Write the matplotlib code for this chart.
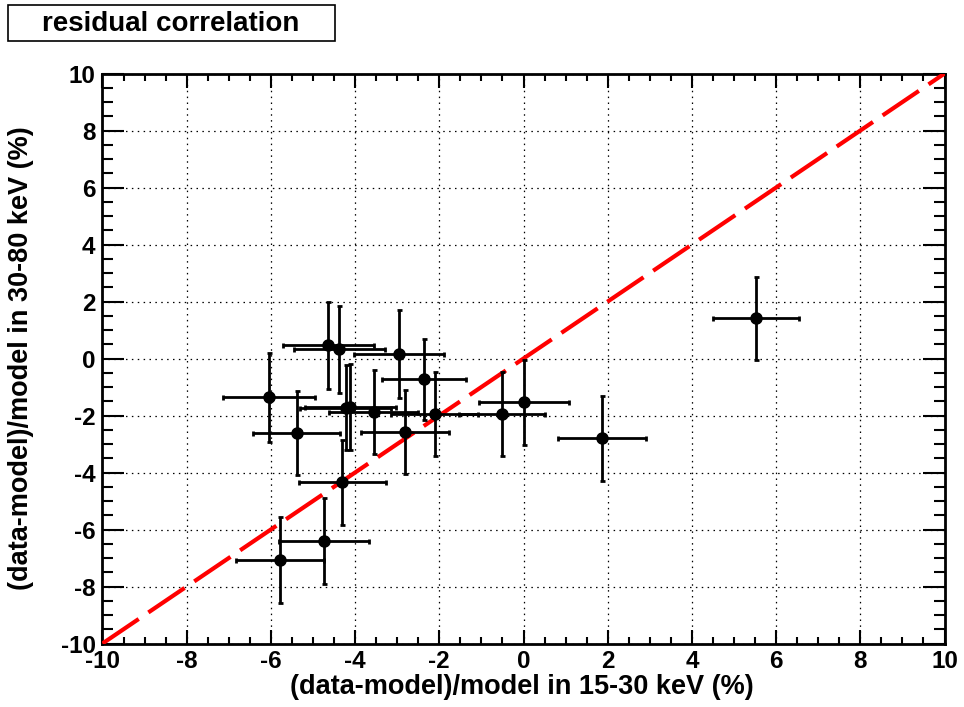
"""
Residual correlation: 15-30 keV vs 30-80 keV residuals
"""

import matplotlib
matplotlib.use("Agg")
import matplotlib.pyplot as plt
from matplotlib.ticker import MultipleLocator

plt.rcParams['font.family'] = ['Liberation Sans', 'DejaVu Sans']
plt.rcParams['font.weight'] = 'bold'
plt.rcParams['axes.unicode_minus'] = False

# data (percent)
x_res = [-6.05, -5.39, -5.79, -4.74, -4.64, -4.38, -4.30, -4.22, -4.12,
         -3.56, -2.95, -2.82, -2.37, -2.11, -0.51, 0.01, 1.87, 5.52]
y_res = [-1.36, -2.62, -7.07, -6.40, 0.47, 0.32, -4.35, -1.72, -1.70,
         -1.87, 0.15, -2.57, -0.73, -1.95, -1.95, -1.54, -2.80, 1.41]
x_err = [1.09, 1.04, 1.05, 1.07, 1.08, 1.08, 1.03, 1.08, 1.08,
         1.05, 1.07, 1.04, 1.00, 1.04, 1.02, 1.06, 1.04, 1.02]
y_err = [1.56, 1.48, 1.52, 1.52, 1.53, 1.54, 1.48, 1.50, 1.50,
         1.48, 1.54, 1.48, 1.42, 1.47, 1.47, 1.49, 1.50, 1.46]

diag = [-10, 10]
title = "residual correlation"
xlabel = "(data-model)/model in 15-30 keV (%)"
ylabel = "(data-model)/model in 30-80 keV (%)"

FS_TICK = 17.5
FS_LABEL = 19.5

fig = plt.figure(figsize=(9.64, 7.07), dpi=100)
ax = fig.add_axes([0.1063, 0.0898, 0.8735, 0.8062])

ax.set_xlim(-10, 10)
ax.set_ylim(-10, 10)

# grid at major ticks
ax.grid(True, which='major', color='black', linestyle=(0, (1.2, 3.5)), linewidth=0.9)
ax.set_axisbelow(True)

# y = x line
ax.plot(diag, diag, color='#ff0000', linewidth=3, dashes=(10.5, 2.8), zorder=3)

ax.errorbar(x_res, y_res, xerr=x_err, yerr=y_err, fmt='o', color='black',
            markersize=8, elinewidth=2, capsize=1.8, capthick=2, zorder=4)

# ticks on all sides, ROOT style
ax.xaxis.set_major_locator(MultipleLocator(2))
ax.xaxis.set_minor_locator(MultipleLocator(0.5))
ax.yaxis.set_major_locator(MultipleLocator(2))
ax.yaxis.set_minor_locator(MultipleLocator(0.5))
ax.tick_params(axis='x', which='major', direction='in', length=10, width=1.5,
               top=True, labelsize=FS_TICK, pad=5)
ax.tick_params(axis='x', which='minor', direction='in', length=5, width=1.5, top=True)
ax.tick_params(axis='y', which='major', direction='in', length=16, width=1.5,
               right=True, labelsize=FS_TICK, pad=5)
ax.tick_params(axis='y', which='minor', direction='in', length=8, width=1.5, right=True)
for lab in ax.get_xticklabels() + ax.get_yticklabels():
    lab.set_fontweight('bold')

for sp in ax.spines.values():
    sp.set_linewidth(2)

fig.text(522 / 964, 1 - 687 / 707, xlabel, ha='center', va='center',
         fontsize=FS_LABEL, fontweight='bold')
fig.text(21 / 964, 1 - 358 / 707, ylabel, ha='center', va='center',
         rotation=90, fontsize=FS_LABEL, fontweight='bold')

# title box
fig.text(171 / 964, 1 - 24 / 707, title, ha='center', va='center',
         fontsize=20, fontweight='bold')
fig.patches.append(plt.Rectangle((8 / 964, 1 - 41 / 707), 327 / 964, 36 / 707,
                                 transform=fig.transFigure, fill=False,
                                 edgecolor='black', linewidth=1.2))

fig.savefig('out.png', dpi=100, facecolor='white')
